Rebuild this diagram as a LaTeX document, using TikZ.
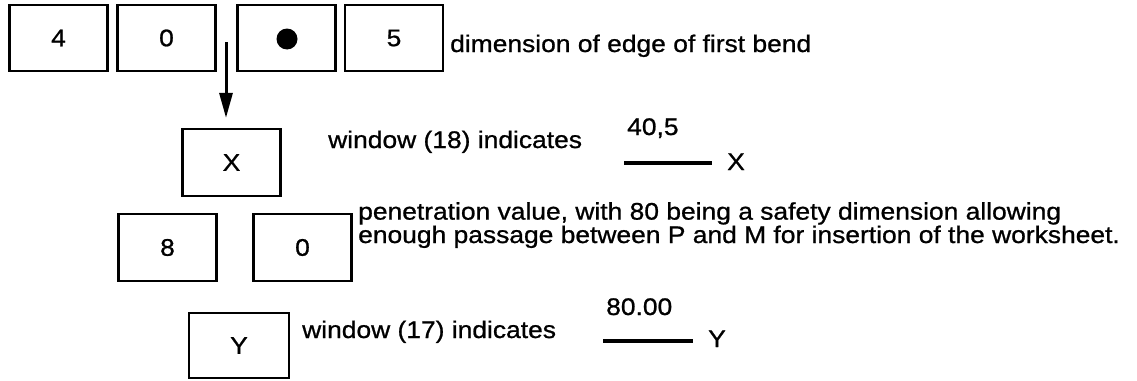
\documentclass[tikz,border=0pt]{standalone}
\usepackage{fontspec}
\setmainfont{Liberation Sans}[FakeStretch=1.1,FakeBold=0.9]
\usetikzlibrary{arrows.meta}
\begin{document}
\begin{tikzpicture}[x=1pt,y=-1pt,
  digitbox/.style={draw, line width=2.2pt, minimum width=98pt, minimum height=66pt, inner sep=0pt, font=\fontsize{24}{24}\selectfont},
  lbl/.style={anchor=base west, inner sep=0pt, font=\fontsize{24}{22}\selectfont, align=left},
  fracline/.style={line width=3.5pt}]
\useasboundingbox (0,0) rectangle (1137,380);
% top row
\node[digitbox] (b4) at (58.5,38) {4};
\node[digitbox] (b0) at (166.5,38) {0};
\node[digitbox] (bdot) at (286.5,38) {};
\fill (bdot.center) ++(0.5,1) circle[radius=10.5pt];
\node[digitbox] (b5) at (394,38) {5};
\node[lbl] (t1) at (450,52) {dimension of edge of first bend};
% arrow to X
\coordinate (a1) at (226,42);
\node[digitbox, minimum height=67pt] (bx) at (231.5,162.5) {X};
\draw[line width=3pt, -{Triangle[length=25pt,width=13pt]}, shorten >=10pt] (a1) -- (a1 |- bx.north);
\node[lbl] (t2) at (328,148) {window (18) indicates};
\node[lbl] (n405) at (627,135) {40,5};
\coordinate (l1s) at (624,163);
\coordinate (l1e) at (712,163);
\draw[fracline] (l1s) -- (l1e);
\node[lbl] (xr) at (727,170) {X};
% penetration row
\node[digitbox, minimum height=67pt] (b8) at (167.5,247.5) {8};
\node[digitbox, minimum height=67pt] (b0b) at (302.5,247.5) {0};
\node[lbl] (t3) at (358,243) {penetration value, with 80 being a safety dimension allowing\\enough passage between P and M for insertion of the worksheet.};
% Y row
\node[digitbox, minimum width=100pt, minimum height=65pt] (by) at (239,345.5) {Y};
\node[lbl] (t4) at (302,338) {window (17) indicates};
\node[lbl] (n80) at (606,315) {80.00};
\coordinate (l2s) at (603,341);
\coordinate (l2e) at (693,341);
\draw[fracline] (l2s) -- (l2e);
\node[lbl] (yr) at (708,347) {Y};
\end{tikzpicture}
\end{document}
